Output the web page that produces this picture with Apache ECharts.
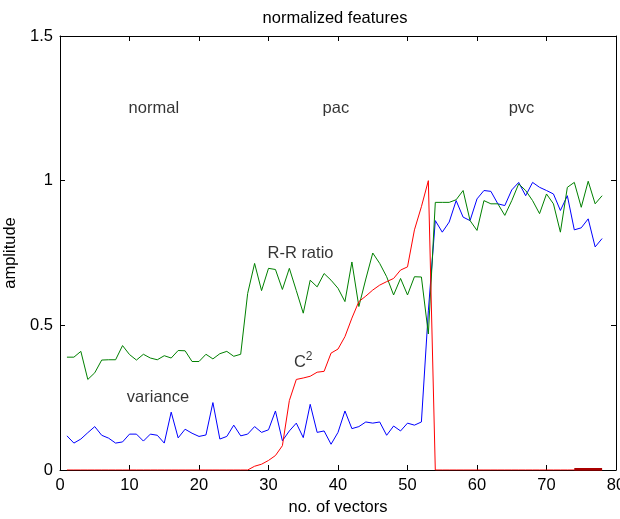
<!DOCTYPE html>
<html>
<head>
<meta charset="utf-8">
<script src="https://cdn.jsdelivr.net/npm/echarts@6/dist/echarts.min.js"></script>
<style>
html,body{margin:0;padding:0;background:#fff;}
#chart{width:620px;height:519px;}
</style>
</head>
<body>
<div id="chart"></div>
<script>
// ---- data ----
const vectorNo = [1,2,3,4,5,6,7,8,9,10,11,12,13,14,15,16,17,18,19,20,21,22,23,24,25,26,27,28,29,30,31,32,33,34,35,36,37,38,39,40,41,42,43,44,45,46,47,48,49,50,51,52,53,54,55,56,57,58,59,60,61,62,63,64,65,66,67,68,69,70,71,72,73,74,75,76,77,78];
const variance = [0.118,0.093,0.107,0.129,0.150,0.120,0.110,0.093,0.097,0.124,0.124,0.100,0.124,0.120,0.093,0.200,0.111,0.141,0.127,0.116,0.121,0.233,0.107,0.116,0.155,0.118,0.124,0.150,0.130,0.139,0.204,0.101,0.135,0.162,0.112,0.227,0.130,0.135,0.089,0.130,0.204,0.143,0.150,0.166,0.162,0.166,0.120,0.152,0.135,0.162,0.155,0.166,0.550,0.862,0.822,0.857,0.931,0.874,0.862,0.937,0.966,0.963,0.920,0.914,0.968,0.994,0.948,0.994,0.977,0.966,0.954,0.897,0.948,0.830,0.837,0.868,0.771,0.800];
const rrRatio = [0.390,0.390,0.410,0.313,0.336,0.380,0.381,0.381,0.430,0.399,0.380,0.400,0.387,0.381,0.395,0.387,0.413,0.412,0.375,0.375,0.400,0.384,0.402,0.410,0.393,0.400,0.610,0.714,0.620,0.697,0.693,0.624,0.697,0.620,0.542,0.656,0.633,0.679,0.656,0.628,0.582,0.719,0.565,0.660,0.750,0.714,0.668,0.605,0.662,0.605,0.668,0.667,0.470,0.925,0.925,0.925,0.934,0.966,0.862,0.828,0.931,0.920,0.920,0.880,0.931,0.989,0.966,0.931,0.886,0.954,0.920,0.822,0.977,0.994,0.908,0.998,0.920,0.948];
const cSquared = [0,0,0,0,0,0,0,0,0,0,0,0,0,0,0,0,0,0,0,0,0,0,0,0,0,0,0,0.013,0.020,0.033,0.050,0.084,0.240,0.313,0.318,0.324,0.338,0.341,0.404,0.418,0.461,0.525,0.582,0.601,0.622,0.639,0.651,0.662,0.691,0.702,0.830,0.910,1.000,0,0,0,0,0,0,0,0,0,0,0,0,0,0,0,0,0,0,0,0,0,0,0,0,0];
const tailX = [74,75,76,77,78];
const tailY = [0.003,0.003,0.003,0.003,0.003];
const annoText = ['normal','pac','pvc','R-R ratio','C{sup|2}','variance'];
const annoX = [13.5,39.7,66.4,34.6,35.0,14.1];
const annoY = [1.25,1.25,1.25,0.75,0.37,0.25];

const FONT = 'Liberation Sans, Arial, Helvetica, sans-serif';
const FS = 16.5;
const pairs = (xs, ys) => xs.map((x, i) => [x, ys[i]]);

const chart = echarts.init(document.getElementById('chart'), null, {renderer: 'canvas'});
const axisBase = {
  type: 'value',
  axisLine: {show: true, onZero: false, lineStyle: {color: '#000', width: 1}},
  axisTick: {show: true, inside: true, length: 5, lineStyle: {color: '#000'}},
  splitLine: {show: false},
};
chart.setOption({
  animation: false,
  backgroundColor: '#fff',
  title: {
    text: 'normalized features', left: 330, top: 5, textAlign: 'center',
    textStyle: {fontFamily: FONT, fontSize: FS, fontWeight: 'normal', color: '#000'}
  },
  grid: {left: 60, right: 4, top: 36, bottom: 49, containLabel: false, outerBoundsMode: 'none'},
  xAxis: [
    Object.assign({}, axisBase, {
      min: 0, max: 80, interval: 10, position: 'bottom',
      name: 'no. of vectors', nameLocation: 'middle', nameGap: 29,
      nameTextStyle: {fontFamily: FONT, fontSize: FS, color: '#000'},
      axisLabel: {fontFamily: FONT, fontSize: FS, color: '#000', margin: 7}
    }),
    Object.assign({}, axisBase, {
      min: 0, max: 80, interval: 10, position: 'top', axisLabel: {show: false}
    })
  ],
  yAxis: [
    Object.assign({}, axisBase, {
      min: 0, max: 1.5, interval: 0.5, position: 'left',
      name: 'amplitude', nameLocation: 'middle', nameGap: 36,
      nameTextStyle: {fontFamily: FONT, fontSize: FS, color: '#000'},
      axisLabel: {fontFamily: FONT, fontSize: FS, color: '#000', margin: 7}
    }),
    Object.assign({}, axisBase, {
      min: 0, max: 1.5, interval: 0.5, position: 'right', axisLabel: {show: false}
    })
  ],
  series: [
    {type: 'line', name: 'variance', data: pairs(vectorNo, variance), showSymbol: false,
     lineStyle: {color: '#0000ff', width: 1}, itemStyle: {color: '#0000ff'}},
    {type: 'line', name: 'R-R ratio', data: pairs(vectorNo, rrRatio), showSymbol: false,
     lineStyle: {color: '#008000', width: 1}, itemStyle: {color: '#008000'}},
    {type: 'line', name: 'C2', data: pairs(vectorNo, cSquared), showSymbol: false,
     lineStyle: {color: '#ff0000', width: 1}, itemStyle: {color: '#ff0000'}},
    {type: 'line', name: 'tail', data: pairs(tailX, tailY), showSymbol: false,
     lineStyle: {color: '#aa0000', width: 2.5}, itemStyle: {color: '#aa0000'}},
    {type: 'scatter', name: 'labels', data: pairs(annoX, annoY), symbolSize: 1,
     itemStyle: {color: 'rgba(0,0,0,0)'}, silent: true, z: 10,
     label: {show: true, position: 'inside', color: '#000', fontFamily: FONT, fontSize: FS,
       formatter: p => annoText[p.dataIndex],
       rich: {sup: {fontSize: 12, verticalAlign: 'top', padding: [0,0,12,0], fontFamily: FONT, color: '#000'}}}}
  ]
});
</script>
</body>
</html>
